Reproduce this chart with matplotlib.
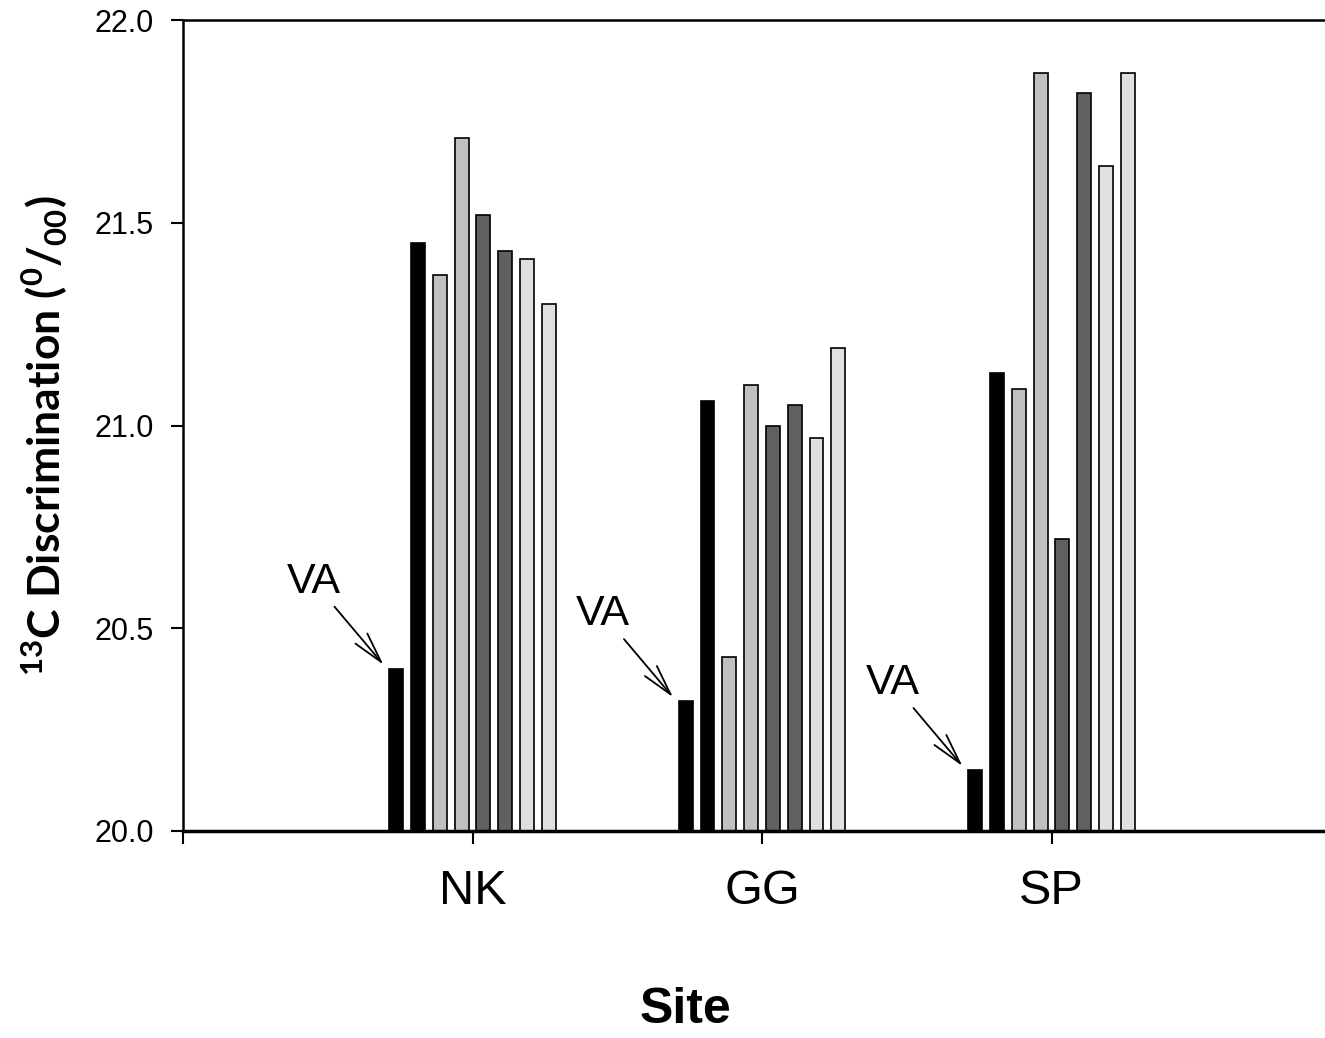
# 13C discrimination per site, eight bars per site (VA marked)

import numpy as np
import matplotlib
matplotlib.use("Agg")
import matplotlib.pyplot as plt

sites = ["NK", "GG", "SP"]
tick_labels = [""] + sites

# bar values per site, left to right (first bar = VA)
nk_values = [20.40, 21.45, 21.37, 21.71, 21.52, 21.43, 21.41, 21.30]
gg_values = [20.32, 21.06, 20.43, 21.10, 21.00, 21.05, 20.97, 21.19]
sp_values = [20.15, 21.13, 21.09, 21.87, 20.72, 21.82, 21.64, 21.87]

bar_colors = ["#000000", "#000000", "#c0c0c0", "#c0c0c0",
              "#606060", "#606060", "#e0e0e0", "#e0e0e0"]

plt.rcParams["font.family"] = ["Liberation Sans", "DejaVu Sans"]
plt.rcParams["mathtext.fontset"] = "custom"
plt.rcParams["mathtext.rm"] = "Lato:bold"
plt.rcParams["mathtext.bf"] = "Lato:bold"

W, H = 1325, 1038
fig = plt.figure(figsize=(W / 100, H / 100), dpi=100)
ax = fig.add_axes([183 / W, (H - 831) / H, (1341 - 183) / W, 811 / H])

values = np.array([nk_values, gg_values, sp_values])
n_bars = values.shape[1]
pitch = 0.0753
width = 0.048
centers = np.arange(1, len(sites) + 1)

for j in range(n_bars):
    xs = centers + (j - (n_bars - 1) / 2) * pitch
    ax.bar(xs, values[:, j] - 20.0, bottom=20.0, width=width,
           color=bar_colors[j], edgecolor="black", linewidth=1.2, zorder=2)

# VA annotations on the first bar of each site
for i in range(len(sites)):
    x_left = centers[i] - (n_bars - 1) / 2 * pitch - width / 2
    ax.annotate("VA", xy=(x_left - 0.02, values[i, 0] + 0.01),
                xytext=(-70, 83), textcoords="offset pixels",
                ha="center", va="center", fontsize=31,
                arrowprops=dict(arrowstyle="->,head_length=1.1,head_width=0.28",
                                color="black", lw=1.3, shrinkA=2, shrinkB=0,
                                mutation_scale=20))

ax.set_xlim(0, 4)
ax.set_ylim(20.0, 22.0)
ax.set_xticks(np.arange(0, 4))
ax.set_xticklabels(tick_labels, fontsize=35)
ax.set_yticks(np.arange(20.0, 22.01, 0.5))
ax.set_yticklabels([f"{v:.1f}" for v in np.arange(20.0, 22.01, 0.5)], fontsize=22)
ax.tick_params(axis="x", direction="out", length=9, width=1.5, pad=18)
ax.tick_params(axis="y", direction="out", length=9, width=1.5, pad=12)

ax.spines["right"].set_visible(False)
ax.spines["left"].set_linewidth(1.8)
ax.spines["top"].set_linewidth(1.8)
ax.spines["bottom"].set_linewidth(2.5)

fig.text(685 / W, (H - 1010) / H, "Site", fontsize=36, fontweight="bold",
         ha="center", va="center")
fig.text(45 / W, (H - 436) / H,
         r"$^{13}$C Discrimination ($^{0}$/$_{00}$)",
         family=["Lato", "DejaVu Sans"], fontweight="bold", fontsize=32,
         rotation=90, ha="center", va="center")

fig.savefig("out.png", dpi=100)
